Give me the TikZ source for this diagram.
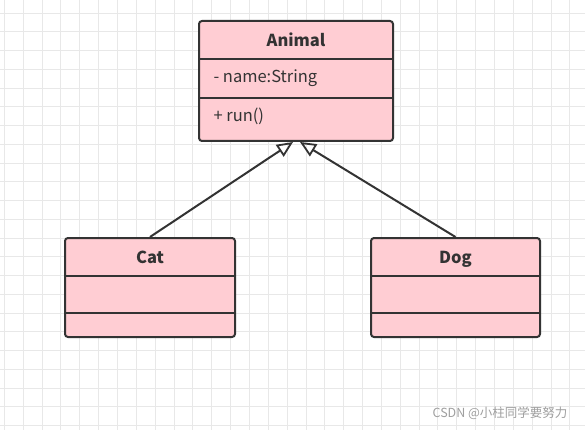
\documentclass[tikz,border=0pt]{standalone}
\usepackage{fontspec}
\setmainfont{Noto Sans CJK SC}
\usetikzlibrary{arrows.meta,calc}
\definecolor{pinkfill}{HTML}{FFCDD3}
\definecolor{edge}{HTML}{333333}
\definecolor{gridc}{HTML}{E8E8E8}
\begin{document}
\begin{tikzpicture}[x=1pt,y=-1pt,
  classbox/.style={draw=edge,fill=pinkfill,line width=2pt,rounded corners=3pt},
  divider/.style={draw=edge,line width=2pt},
  title/.style={font=\fontsize{16.5}{19}\selectfont\bfseries,text=edge,text depth=0pt},
  member/.style={font=\fontsize{16.5}{19}\selectfont,text=edge,anchor=west},
  inherit/.style={draw=edge,line width=2pt,-{Triangle[open,length=16pt,width=14pt,line width=1.8pt]}}]
\useasboundingbox (0,0) rectangle (585,430);
\fill[white] (0,0) rectangle (585,430);
% grid
\foreach \i in {0,...,31} {
  \draw[gridc,line width=0.8pt] ({4.3+18.85*\i},0) -- ({4.3+18.85*\i},430);
}
\foreach \j in {0,...,23} {
  \draw[gridc,line width=0.8pt] (0,{-5.7+18.75*\j}) -- (585,{-5.7+18.75*\j});
}
% Animal
\draw[classbox] (199,21) rectangle (393,141);
\coordinate (aA) at (199,59); \coordinate (aB) at (393,59);
\coordinate (aC) at (199,98); \coordinate (aD) at (393,98);
\draw[divider] (aA) -- (aB);
\draw[divider] (aC) -- (aD);
\node[title] (animal) at (296,40) {Animal};
\node[member] (name) at (210,78) {- name:String};
\node[member] (run) at (210,116) {+ run()};
% Cat
\draw[classbox] (65,238) rectangle (235,337);
\coordinate (cA) at (65,276); \coordinate (cB) at (235,276);
\coordinate (cC) at (65,313); \coordinate (cD) at (235,313);
\draw[divider] (cA) -- (cB);
\draw[divider] (cC) -- (cD);
\node[title] (cat) at (150,257) {Cat};
% Dog
\draw[classbox] (371,238) rectangle (540,337);
\coordinate (dA) at (371,276); \coordinate (dB) at (540,276);
\coordinate (dC) at (371,313); \coordinate (dD) at (540,313);
\draw[divider] (dA) -- (dB);
\draw[divider] (dC) -- (dD);
\node[title] (dog) at (455.5,257) {Dog};
% arrows
\coordinate (catTop) at (150,237);
\coordinate (dogTop) at (455.5,237);
\coordinate (tipL) at (293,142);
\coordinate (tipR) at (300,142);
\draw[inherit] (catTop) -- (tipL);
\draw[inherit] (dogTop) -- (tipR);
% watermark
\node[font=\fontsize{12.5}{14}\selectfont,text=gray!75,anchor=east] (wm) at (571,413) {CSDN @小柱同学要努力};
\end{tikzpicture}
\end{document}
